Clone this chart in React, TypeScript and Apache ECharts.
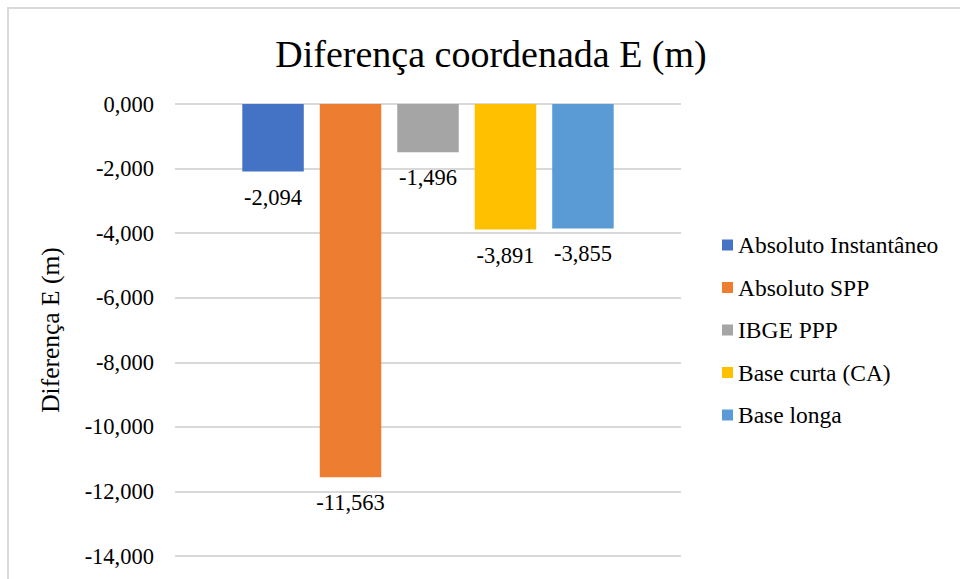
import React, { useEffect, useRef } from "react";
import * as echarts from "echarts";

const seriesNames = [
  "Absoluto Instantâneo",
  "Absoluto SPP",
  "IBGE PPP",
  "Base curta (CA)",
  "Base longa",
];
const seriesValues = [-2.094, -11.563, -1.496, -3.891, -3.855];
const seriesColors = ["#4472C4", "#ED7D31", "#A5A5A5", "#FFC000", "#5B9BD5"];
const categories = [""];
const titleText = "Diferença coordenada E (m)";
const yAxisName = "Diferença E (m)";

const FONT = "'Liberation Serif', 'Times New Roman', serif";
const fmt = (v: number) => v.toFixed(3).replace(".", ",");

export default function App() {
  const ref = useRef<HTMLDivElement>(null);
  useEffect(() => {
    document.body.style.margin = "0";
    if (!ref.current) return;
    const chart = echarts.init(ref.current, undefined, { renderer: "svg" });
    chart.setOption({
      animation: false,
      backgroundColor: "#ffffff",
      textStyle: { fontFamily: FONT, fontWeight: "normal" },
      title: {
        text: titleText,
        left: 491,
        textAlign: "center",
        top: 35,
        padding: 0,
        textStyle: { fontFamily: FONT, fontSize: 38, fontWeight: "normal", color: "#000000" },
      },
      graphic: [
        {
          type: "rect",
          shape: { x: 8, y: 8, width: 1200, height: 1200 },
          style: { fill: "none", stroke: "#d9d9d9", lineWidth: 2 },
          z: -1,
          silent: true,
        },
      ],
      legend: {
        orient: "vertical",
        left: 722,
        top: 233,
        itemWidth: 11,
        itemHeight: 11,
        itemGap: 18.5,
        icon: "rect",
        padding: 0,
        textStyle: { fontFamily: FONT, fontWeight: "normal", fontSize: 23.5, color: "#000000", lineHeight: 24 },
        data: seriesNames,
      },
      grid: { left: 175, right: 279, top: 104, bottom: 23, containLabel: false },
      xAxis: {
        type: "category",
        data: categories,
        axisLine: { show: false },
        axisTick: { show: false },
        axisLabel: { show: false },
      },
      yAxis: {
        type: "value",
        min: -14,
        max: 0,
        interval: 2,
        name: yAxisName,
        nameLocation: "middle",
        nameRotate: 90,
        nameGap: 112,
        nameTextStyle: { fontFamily: FONT, fontWeight: "normal", fontSize: 25.5, color: "#000000" },
        axisLine: { show: false },
        axisTick: { show: false },
        axisLabel: {
          fontFamily: FONT,
          fontWeight: "normal",
          fontSize: 22.5,
          color: "#000000",
          margin: 21,
          formatter: (v: number) => fmt(v),
        },
        splitLine: { lineStyle: { color: "#d9d9d9", width: 2 } },
      },
      series: seriesNames.map((name, i) => ({
        name,
        type: "bar",
        data: [seriesValues[i]],
        barGap: "26%",
        barCategoryGap: "26.6%",
        itemStyle: { color: seriesColors[i] },
        label: {
          show: true,
          position: "bottom",
          distance: 14,
          fontFamily: FONT,
          fontWeight: "normal",
          fontSize: 22.5,
          color: "#000000",
          formatter: (p: any) => fmt(p.value),
        },
      })),
    });
    return () => chart.dispose();
  }, []);
  return <div ref={ref} style={{ width: 960, height: 579 }} />;
}
